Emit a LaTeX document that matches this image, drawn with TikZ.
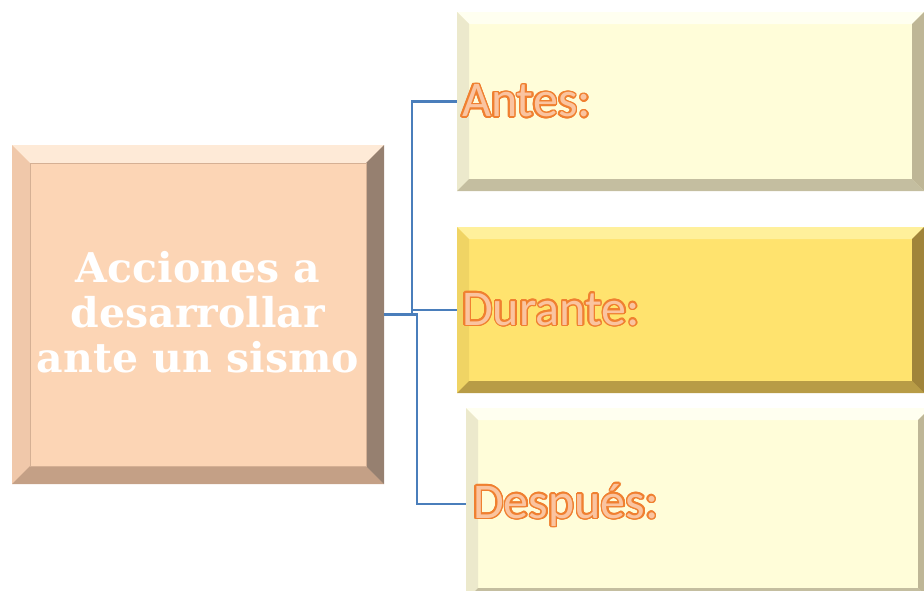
\documentclass[tikz,border=0pt]{standalone}
\usepackage{fontspec}
\usepackage{tikz}
\usepackage{contour}
\usetikzlibrary{positioning}
\newfontfamily\labelfont{Carlito}
\newfontfamily\titlefont{DejaVu Serif}
\definecolor{peach}{RGB}{252,213,181}
\definecolor{peachtop}{RGB}{254,234,215}
\definecolor{peachleft}{RGB}{240,200,170}
\definecolor{peachbot}{RGB}{196,160,134}
\definecolor{peachright}{RGB}{150,128,112}
\definecolor{cream}{RGB}{255,253,217}
\definecolor{creamtop}{RGB}{255,255,240}
\definecolor{creamleft}{RGB}{236,233,204}
\definecolor{creambot}{RGB}{196,190,160}
\definecolor{creamright}{RGB}{190,182,150}
\definecolor{gold}{RGB}{255,227,110}
\definecolor{goldtop}{RGB}{255,240,155}
\definecolor{goldleft}{RGB}{240,212,100}
\definecolor{goldbot}{RGB}{184,156,70}
\definecolor{goldright}{RGB}{160,132,58}
\definecolor{linkblue}{RGB}{74,126,187}
\definecolor{lblline}{RGB}{240,128,48}
\definecolor{lblfill}{RGB}{250,196,160}
\contourlength{1.5pt}
\contournumber{20}

% bevel: node, width, top, left, bottom, right
\newcommand\bevel[6]{%
  \fill[#3] (#1.north west) -- (#1.north east) -- ([shift={(-#2,#2)}]#1.north east) -- ([shift={(#2,#2)}]#1.north west) -- cycle;
  \fill[#4] (#1.north west) -- ([shift={(#2,#2)}]#1.north west) -- ([shift={(#2,-#2)}]#1.south west) -- (#1.south west) -- cycle;
  \fill[#5] (#1.south west) -- ([shift={(#2,-#2)}]#1.south west) -- ([shift={(-#2,-#2)}]#1.south east) -- (#1.south east) -- cycle;
  \fill[#6] (#1.north east) -- (#1.south east) -- ([shift={(-#2,-#2)}]#1.south east) -- ([shift={(-#2,#2)}]#1.north east) -- cycle;
}
\newcommand\steplabel[1]{\labelfont\fontsize{50}{54}\selectfont\contour{lblline}{\textcolor{lblfill}{#1}}}

\tikzset{
  box/.style={rectangle, inner sep=0pt, outer sep=0pt},
  conn/.style={draw=linkblue, line width=2.2pt},
  lbl/.style={anchor=west, inner sep=0pt}
}

\begin{document}
\begin{tikzpicture}[x=1pt,y=-1pt]
\useasboundingbox (0,0) rectangle (924,590);

%% main box
\node[box, fill=peach, minimum width=372pt, minimum height=339pt] (main) at (198,314.5) {};
\bevel{main}{18}{peachtop}{peachleft}{peachbot}{peachright}
\draw[peachbot!70!peach, line width=0.6pt] ([shift={(18,18)}]main.north west) rectangle ([shift={(-18,-18)}]main.south east);
\node[align=center, text=white, inner sep=0pt, font=\titlefont\bfseries\fontsize{41}{45}\selectfont] (maintext) at (198,312)
  {Acciones a\\desarrollar\\ante un sismo};

%% right boxes
\node[box, fill=cream, minimum width=467pt, minimum height=179pt] (antes) at (690.5,101.5) {};
\bevel{antes}{12}{creamtop}{creamleft}{creambot}{creamright}
\node[box, fill=gold, minimum width=467pt, minimum height=166pt] (durante) at (690.5,310) {};
\bevel{durante}{12}{goldtop}{goldleft}{goldbot}{goldright}
\node[box, fill=cream, minimum width=464pt, minimum height=192pt] (despues) at (698,504) {};
\bevel{despues}{12}{creamtop}{creamleft}{creambot}{creamright}

%% connectors
\draw[conn] (main.east) -- ++(28,0) |- (antes.west);
\draw[conn] (main.east) -- ++(28,0) |- (durante.west);
\draw[conn] (main.east) -- ++(33,0) |- (despues.west);

%% labels
\node[lbl] (antesT) at ([xshift=5]antes.west) {\steplabel{Antes:}};
\node[lbl] (duranteT) at ([xshift=5]durante.west) {\steplabel{Durante:}};
\node[lbl] (despuesT) at ([xshift=7,yshift=-2]despues.west) {\steplabel{Después:}};

\end{tikzpicture}
\end{document}
